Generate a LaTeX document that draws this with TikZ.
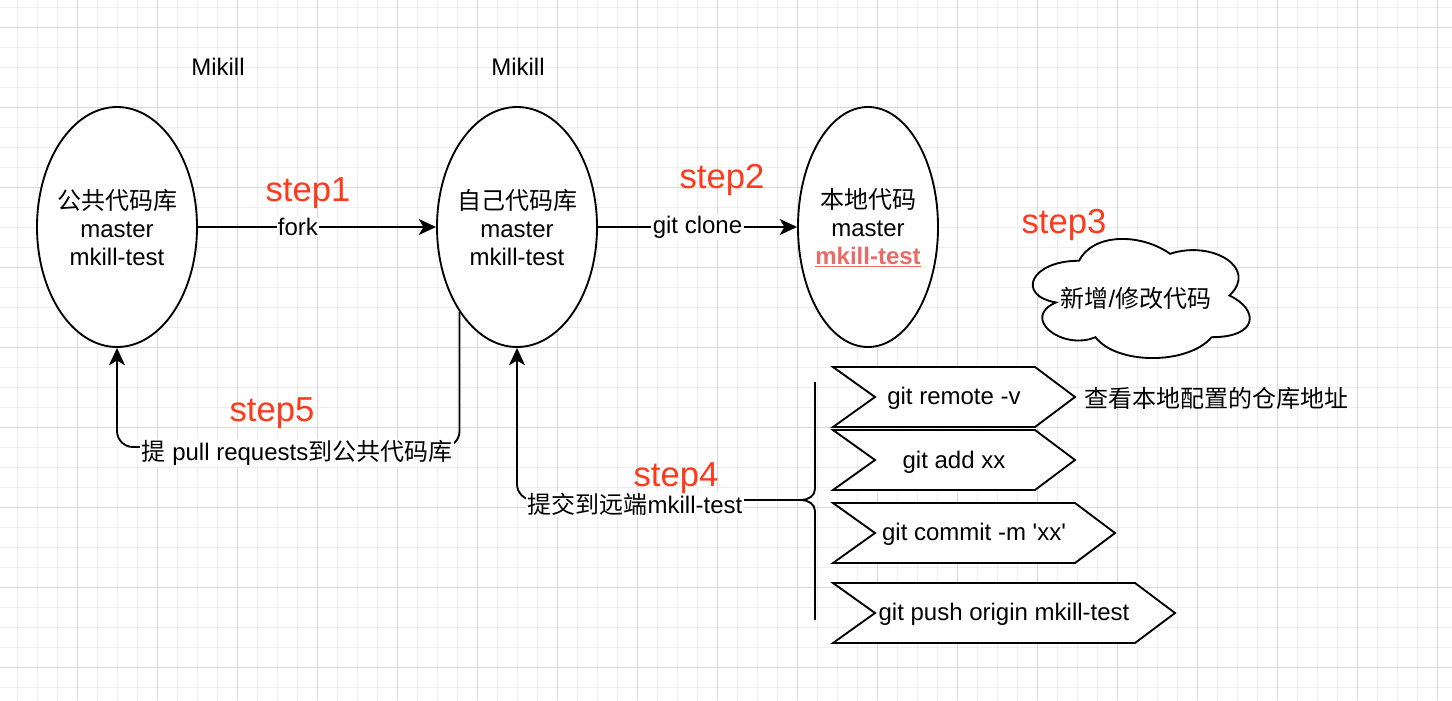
\documentclass[tikz,border=0pt]{standalone}
\usepackage{fontspec}
\setmainfont{Liberation Sans}
\newfontfamily\cjk{Noto Sans CJK SC}
\usetikzlibrary{arrows.meta,shapes.geometric}
\definecolor{stepred}{HTML}{FF3A1C}
\definecolor{pinkred}{HTML}{EA6B66}
\definecolor{gridmajor}{HTML}{D8D8D8}
\definecolor{gridminor}{HTML}{EEEEEE}
\begin{document}
\begin{tikzpicture}[x=0.75pt,y=-0.75pt,
  lbl/.style={font=\fontsize{18}{21}\selectfont, inner sep=0pt, align=center},
  steplbl/.style={font=\fontsize{26}{30}\selectfont, text=stepred, inner sep=0pt},
  oval/.style={ellipse, draw, line width=1.4pt, fill=white, inner sep=0pt},
  conn/.style={line width=1.4pt, -{Stealth[length=13pt,width=12pt,inset=3.5pt]}},
  elabel/.style={lbl, fill=white, inner sep=1pt},
  chev/.style={draw, line width=1.4pt, fill=white, line join=miter},
  gminor/.style={draw=gridminor, line width=0.75pt},
  gmajor/.style={draw=gridmajor, line width=0.75pt}]
\useasboundingbox (0,0) rectangle (1452,700);
\fill[white] (0,0) rectangle (1452,700);
% grid
\foreach \x in {17,37,...,1452} \draw[gminor] (\x,0) -- (\x,700);
\foreach \y in {7,27,...,700} \draw[gminor] (0,\y) -- (1452,\y);
\foreach \x in {77,157,...,1452} \draw[gmajor] (\x,0) -- (\x,700);
\foreach \y in {27,107,...,700} \draw[gmajor] (0,\y) -- (1452,\y);

% titles
\node[lbl] (m1) at (218,67) {Mikill};
\node[lbl] (m2) at (518,67) {Mikill};

% ellipses
\node[oval, minimum width=120pt, minimum height=180pt] (e1) at (117,227) {};
\node[oval, minimum width=120pt, minimum height=180pt] (e2) at (517,227) {};
\node[oval, minimum width=105pt, minimum height=180pt] (e3) at (868,227) {};
\node[lbl] (t1) at (117,228) {{\cjk 公共代码库}\\master\\mkill-test};
\node[lbl] (t2) at (517,228) {{\cjk 自己代码库}\\master\\mkill-test};
\node[lbl] (t3) at (868,228) {{\cjk 本地代码}\\master\\{\bfseries\color{pinkred}\underline{mkill-test}}};

% horizontal arrows
\draw[conn] (e1.east) -- (e2.west) node[elabel, pos=0.42] (fk) {fork};
\draw[conn] (e2.east) -- (e3.west) node[elabel, pos=0.5] (gc) {git clone};

% step5 arrow
\coordinate (r5) at (0,447);
\draw[conn, rounded corners=12pt] (e2.236) -- (e2.236 |- r5) -- (e1.south |- r5) -- (e1.south);
\node[elabel] (l5) at (297,453) {{\cjk 提} pull requests{\cjk 到公共代码库}};

% brace
\coordinate (btip) at (801,500);
\draw[line width=1.4pt] (815,382) -- (815,489) to[out=-90,in=0] (btip) to[out=0,in=90] (815,511) -- (815,620);

% step4 arrow
\draw[conn, rounded corners=12pt] (btip) -| (e2.south);
\node[elabel] (l4) at (635,504) {{\cjk 提交到远端}mkill-test};

% chevrons
\draw[chev] (833,367) -- (1035,367) -- (1075,397) -- (1035,427) -- (833,427) -- (875,397) -- cycle;
\draw[chev] (833,430) -- (1035,430) -- (1075,460) -- (1035,490) -- (833,490) -- (875,460) -- cycle;
\draw[chev] (833,503) -- (1075,503) -- (1115,533) -- (1075,563) -- (833,563) -- (875,533) -- cycle;
\draw[chev] (833,583) -- (1135,583) -- (1175,613) -- (1135,643) -- (833,643) -- (875,613) -- cycle;
\node[lbl] (g1) at (954,398) {git remote -v};
\node[lbl] (g2) at (954,462) {git add xx};
\node[lbl] (g3) at (974,534) {git commit -m \textquotesingle xx\textquotesingle};
\node[lbl] (g4) at (1004,614) {git push origin mkill-test};
\node[lbl] (note) at (1216,398) {\cjk 查看本地配置的仓库地址};

% cloud
\draw[line width=1.4pt, fill=white]
  (1079,260.75)
  .. controls (1030,260.75) and (1016,295.5) .. (1056,302.45)
  .. controls (1020,317.74) and (1062,351.1) .. (1095.47,337.2)
  .. controls (1116.8,365) and (1187.9,365) .. (1211.6,337.2)
  .. controls (1259,337.2) and (1259,309.4) .. (1229.4,295.5)
  .. controls (1259,267.7) and (1211.6,239.9) .. (1170.1,253.8)
  .. controls (1140.5,232.95) and (1093.1,232.95) .. (1079,260.75) -- cycle;
\node[lbl] (cl) at (1136,298) {{\cjk 新增}/{\cjk 修改代码}};

% step labels (drawn last, on top)
\node[steplbl] (s1) at (308,193) {step1};
\node[steplbl] (s2) at (722,180) {step2};
\node[steplbl] (s3) at (1064,225) {step3};
\node[steplbl] (s4) at (676,478) {step4};
\node[steplbl] (s5) at (272,413) {step5};
\end{tikzpicture}
\end{document}
